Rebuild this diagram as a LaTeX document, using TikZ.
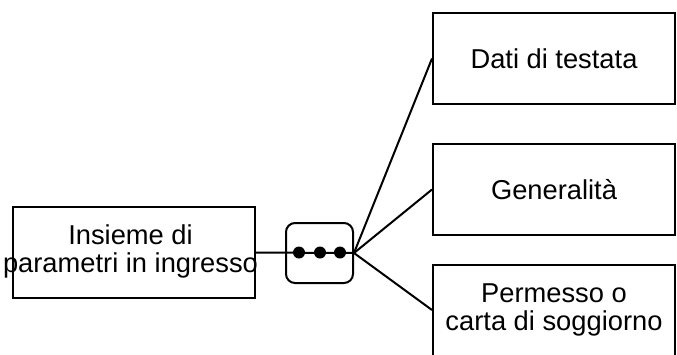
\documentclass[tikz,border=0pt]{standalone}
\usepackage{fontspec}
\setmainfont{Liberation Sans}
\begin{document}
\begin{tikzpicture}
  [x=1pt,y=-1pt,line width=2pt,
   every node/.style={font=\fontsize{27.3}{28}\selectfont,align=center,inner sep=0pt},
   box/.style={draw,rectangle,minimum width=242pt,minimum height=91pt},
   seqbox/.style={draw,rectangle,rounded corners=9pt,minimum width=67pt,minimum height=60pt},
   dot/.style={circle,fill=black,minimum size=12pt}]
  \useasboundingbox (0,0) rectangle (677,354);
  % text wider than the box, let it overflow
  \node[box] (inp) at (133.5,252.5)
    {\makebox[230pt]{\hspace*{-6pt}\begin{tabular}{@{}c@{}}Insieme di\\parametri in ingresso\end{tabular}}};
  \node[seqbox] (seq) at (319.5,253) {};
  \node[box] (dat) at (554,58.5) {Dati di testata};
  \node[box] (gen) at (554,189.5) {Generalità};
  \node[box] (perm) at (554,310) {Permesso o\\carta di soggiorno};

  \draw (inp.east) -- (seq.east);
  \node[dot] (d1) at (299,252.5) {};
  \node[dot] (d2) at (320,252.5) {};
  \node[dot] (d3) at (340,252.5) {};

  \foreach \to in {dat,gen,perm}
    \draw (seq.east) -- (\to.west);

\end{tikzpicture}
\end{document}
